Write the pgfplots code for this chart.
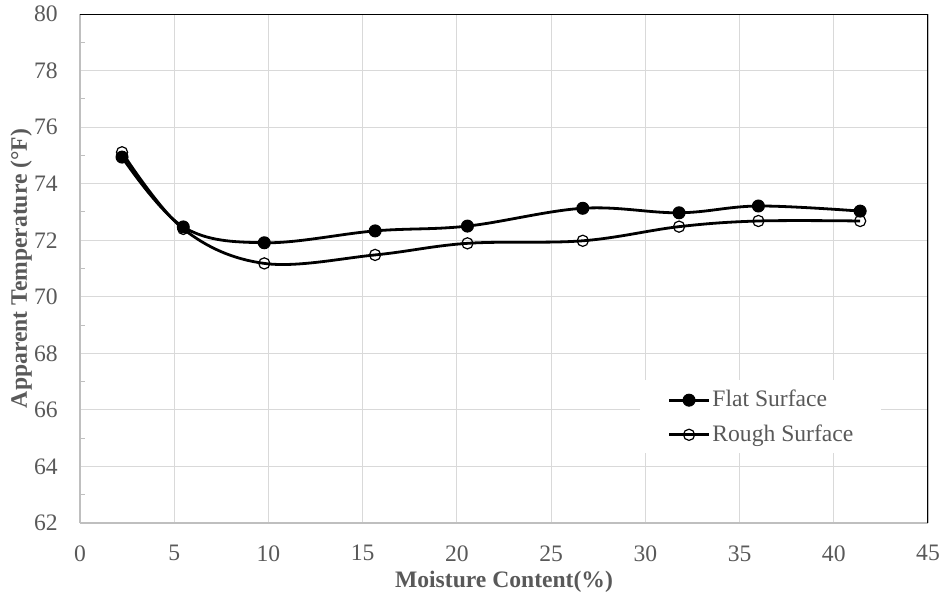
\documentclass[border=0pt]{standalone}
\usepackage{fontspec}
\setmainfont{Liberation Serif}
\usepackage{pgfplots}
\pgfplotsset{compat=1.18}

\definecolor{txtgray}{HTML}{595959}
\definecolor{gridgray}{HTML}{D9D9D9}
\definecolor{axgray}{HTML}{BFBFBF}

\begin{document}
\begin{tikzpicture}
\begin{axis}[
  width=424pt, height=254.5pt, scale only axis,
  xmin=0, xmax=45, ymin=62, ymax=80,
  xtick={0,5,...,45}, ytick={62,64,...,80},
  minor y tick num=1,
  grid=major,
  major grid style={gridgray, line width=0.5pt},
  axis x line*=bottom, axis y line*=left,
  axis line style={-, axgray, line width=0.75pt},
  major tick length=0pt, minor tick length=2.5pt,
  tick align=inside,
  minor tick style={axgray, line width=0.5pt},
  /pgf/number format/assume math mode=true,
  tick label style={font=\fontsize{11.8}{14}\selectfont, text=txtgray},
  yticklabel style={anchor=east, inner sep=0pt, xshift=-11pt},
  xticklabel style={anchor=north, inner sep=0pt, yshift=-11pt},
  xlabel={Moisture Content(\%)},
  ylabel={Apparent Temperature (°F)},
  xlabel style={at={([yshift=-24pt]axis description cs:0.5,0)}, anchor=north,
    inner sep=0pt, font=\fontsize{11.8}{14}\selectfont\bfseries, text=txtgray},
  ylabel style={at={([xshift=-35pt]axis description cs:0,0.5)}, anchor=north,
    inner sep=0pt, font=\fontsize{11.8}{14}\selectfont\bfseries, text=txtgray},
  legend cell align=left,
  legend style={at={(rel axis cs:0.6925,0.2073)}, anchor=west, draw=none, fill=none,
    inner sep=0pt, row sep=5.5pt,
    nodes={inner sep=1pt, text depth=0.15em, text=txtgray},
    font=\fontsize{11.8}{14}\selectfont},
  legend image code/.code={\draw[mark repeat=2,mark phase=2]
    plot coordinates {(0pt,0pt)(10pt,0pt)(20pt,0pt)};},
]
% white legend panel over the grid
\fill[white] (rel axis cs:0.6604,0.2809) rectangle (rel axis cs:0.9446,0.1375);

% flat surface
\addplot[black, line width=1.4pt, smooth, tension=0.6,
  mark=*, mark size=3pt, mark options={solid, fill=black, line width=0.5pt}]
  coordinates {
  (2.23,74.94) (5.48,72.47) (9.78,71.91) (15.66,72.33) (20.56,72.50)
  (26.68,73.13) (31.79,72.97) (36.00,73.21) (41.40,73.03)
  };
\addlegendentry{Flat Surface}

% rough surface
\addplot[black, line width=1.4pt, smooth, tension=0.6,
  mark=o, mark size=2.8pt, mark options={solid, line width=0.6pt}]
  coordinates {
  (2.23,75.11) (5.48,72.40) (9.78,71.18) (15.66,71.48) (20.56,71.89)
  (26.68,71.98) (31.79,72.48) (36.00,72.68) (41.40,72.68)
  };
\addlegendentry{Rough Surface}

% dark frame on top and right
\draw[black, line width=0.75pt] (rel axis cs:0,1) -- (rel axis cs:1,1) -- (rel axis cs:1,0);
\coordinate (O) at (rel axis cs:0,0);
\end{axis}
\pgfresetboundingbox
\path[use as bounding box] ([shift={(-40pt,-36pt)}]O) rectangle ([shift={(431.5pt,261.5pt)}]O);
\end{tikzpicture}
\end{document}
